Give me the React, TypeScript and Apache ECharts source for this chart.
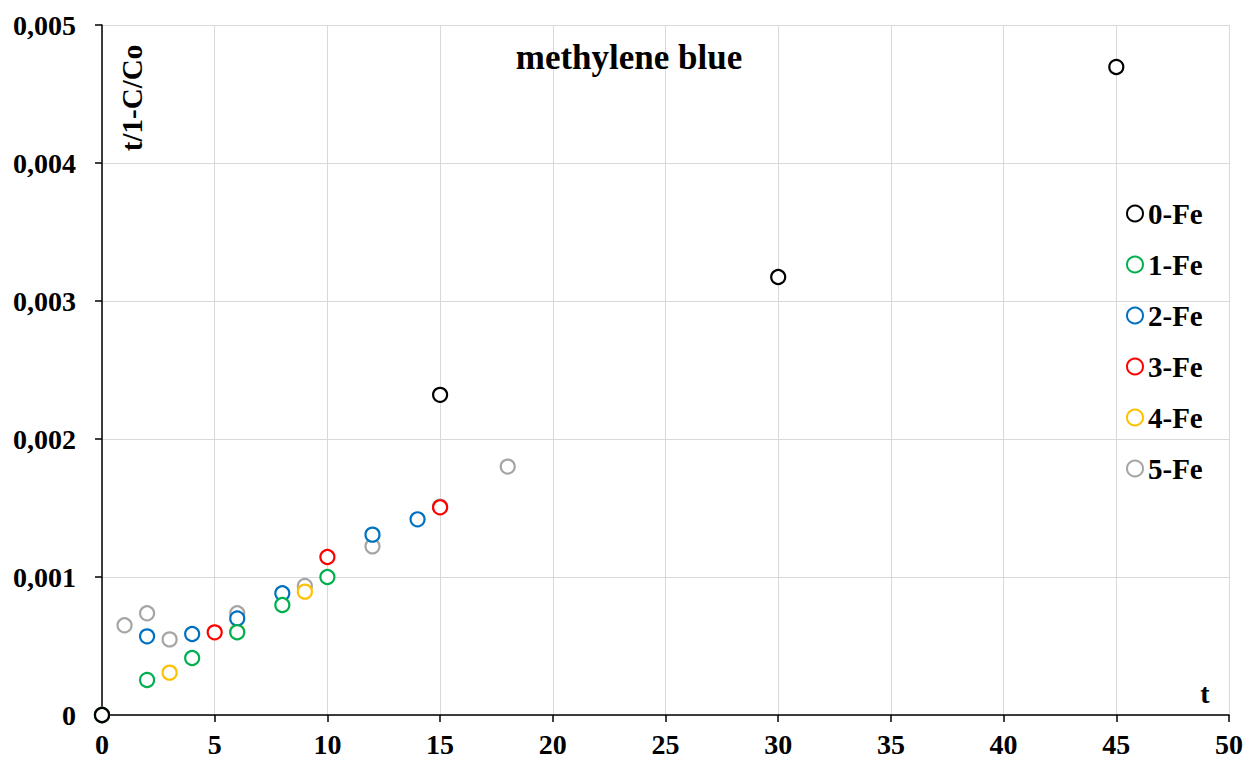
import React, { useEffect, useRef } from "react";
import * as echarts from "echarts";

const seriesNames = ["0-Fe", "1-Fe", "2-Fe", "3-Fe", "4-Fe", "5-Fe"];
const seriesColors = ["#000000", "#00B050", "#0070C0", "#FF0000", "#FFC000", "#A5A5A5"];

const fe0: [number, number][] = [[0, 0], [15, 0.00232], [30, 0.003174], [45, 0.004696]];
const fe1: [number, number][] = [[0, 0], [2, 0.000254], [4, 0.000413], [6, 0.0006], [8, 0.000797], [10, 0.001]];
const fe2: [number, number][] = [[0, 0], [2, 0.00057], [4, 0.000587], [6, 0.0007], [8, 0.000882], [12, 0.001307], [14, 0.001418]];
const fe3: [number, number][] = [[0, 0], [5, 0.000599], [10, 0.001145], [15, 0.001505]];
const fe4: [number, number][] = [[0, 0], [3, 0.000307], [6, 0.000604], [9, 0.000894]];
const fe5: [number, number][] = [[0, 0], [1, 0.00065], [2, 0.000737], [3, 0.000548], [6, 0.000737], [9, 0.000935], [12, 0.001222], [15, 0.00151], [18, 0.0018]];

const allData = [fe0, fe1, fe2, fe3, fe4, fe5];

const titleText = "methylene blue";
const yAxisName = "t/1-C/Co";
const xAxisName = "t";

const FONT = "'Liberation Serif', 'Times New Roman', serif";

export default function App() {
  const ref = useRef<HTMLDivElement>(null);
  useEffect(() => {
    if (!ref.current) return;
    const chart = echarts.init(ref.current, undefined, { renderer: "svg" });
    chart.setOption({
      animation: false,
      backgroundColor: "#ffffff",
      title: {
        text: titleText,
        left: 624,
        top: 35,
        textAlign: "center",
        textStyle: { fontFamily: FONT, fontWeight: "bold", fontSize: 35, color: "#000" },
      },
      grid: { left: 102, right: 20, top: 25, bottom: 49, containLabel: false },
      legend: {
        orient: "vertical",
        left: 1121,
        top: 194,
        itemWidth: 16,
        itemHeight: 16,
        itemGap: 22,
        data: seriesNames,
        textStyle: { fontFamily: FONT, fontWeight: "bold", fontSize: 29, color: "#000", lineHeight: 28 },
      },
      xAxis: {
        type: "value",
        min: 0,
        max: 50,
        interval: 5,
        axisLine: { show: true, lineStyle: { color: "#000", width: 1.5 } },
        axisTick: { show: true, length: 7, lineStyle: { color: "#000", width: 1.5 } },
        axisLabel: { fontFamily: FONT, fontWeight: "bold", fontSize: 28, color: "#000", margin: 15 },
        splitLine: { show: true, lineStyle: { color: "#d9d9d9", width: 1 } },
      },
      yAxis: {
        type: "value",
        min: 0,
        max: 0.005,
        interval: 0.001,
        axisLine: { show: true, lineStyle: { color: "#000", width: 1.5 } },
        axisTick: { show: true, length: 7, lineStyle: { color: "#000", width: 1.5 } },
        axisLabel: {
          fontFamily: FONT,
          fontWeight: "bold",
          fontSize: 28,
          color: "#000",
          margin: 26,
          formatter: (v: number) => (Math.abs(v) < 1e-12 ? "0" : v.toFixed(3).replace(".", ",")),
        },
        splitLine: { show: true, lineStyle: { color: "#d9d9d9", width: 1 } },
      },
      graphic: [
        {
          type: "text",
          x: 132,
          y: 98,
          rotation: Math.PI / 2,
          style: {
            text: yAxisName,
            fontFamily: FONT,
            fontWeight: "bold",
            fontSize: 29,
            fill: "#000",
            align: "center",
            verticalAlign: "middle",
          },
        },
        {
          type: "text",
          x: 1205,
          y: 693,
          style: {
            text: xAxisName,
            fontFamily: FONT,
            fontWeight: "bold",
            fontSize: 28,
            fill: "#000",
            align: "center",
            verticalAlign: "middle",
          },
        },
      ],
      series: seriesNames.map((name, i) => ({
        name,
        type: "scatter",
        data: allData[i],
        symbol: "circle",
        symbolSize: 14,
        itemStyle: { color: "#ffffff", borderColor: seriesColors[i], borderWidth: 2.2, opacity: 1 },
        z: 10 - i,
      })),
    });
    return () => chart.dispose();
  }, []);
  return <div ref={ref} style={{ position: "fixed", left: 0, top: 0, width: 1249, height: 764 }} />;
}
